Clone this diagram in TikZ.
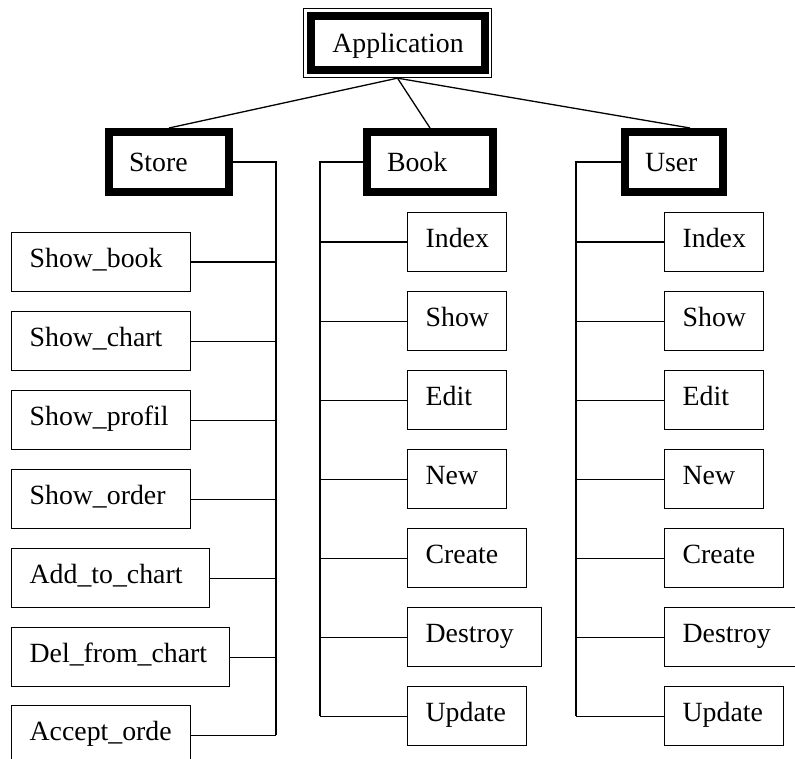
\documentclass[tikz,border=0pt]{standalone}
\usepackage{fontspec}
\setmainfont{Liberation Serif}

% one leaf box: name, left x, top y, width, label
\newcommand\leafnode[5]{%
  \node[leaf, minimum width=#4pt] (#1) at (#2,#3)
    {\makebox[\dimexpr#4pt-36pt\relax][l]{#5}};}

\begin{document}
\begin{tikzpicture}[x=1pt,y=-1pt,
  every node/.style={font=\fontsize{27.8pt}{33pt}\selectfont},
  leaf/.style={draw, line width=1.3pt, rectangle, minimum height=59pt,
    inner xsep=18pt, inner ysep=0pt, text height=20pt, text depth=9pt,
    anchor=north west},
  head/.style={draw, line width=8pt, rectangle, minimum height=60pt,
    inner xsep=20pt, inner ysep=0pt, text height=20pt, text depth=0pt},
  link/.style={line width=1.3pt},
  trunk/.style={line width=2pt},
]
\useasboundingbox (0,0) rectangle (795,759);
\fill[white] (0,0) rectangle (795,759);

% root
\node[draw, line width=1.3pt, minimum width=188pt, minimum height=69pt,
      inner sep=0pt] (appframe) at (397.5,43) {};
\node[draw, line width=8pt, minimum width=174pt, minimum height=54pt,
      inner sep=0pt, text height=20pt, text depth=0pt] (app) at (398,43) {Application};

% controllers
\node[head, minimum width=120pt] (store) at (169,162) {\makebox[80pt][l]{Store}};
\node[head, minimum width=126pt] (book)  at (430,162) {\makebox[86pt][l]{Book}};
\node[head, minimum width=98pt]  (user)  at (674,162) {\makebox[58pt][l]{User}};

% Store actions
\leafnode{showbook}{11}{232}{179}{Show\_book}
\leafnode{showchart}{11}{311}{179}{Show\_chart}
\leafnode{showprofil}{11}{390}{179}{Show\_profil}
\leafnode{showorder}{11}{469}{179}{Show\_order}
\leafnode{addchart}{11}{548}{198}{Add\_to\_chart}
\leafnode{delchart}{11}{627}{218}{Del\_from\_chart}
\leafnode{acceptorder}{11}{705}{179}{Accept\_orde}

% Book actions
\leafnode{bindex}{407}{212}{99}{Index}
\leafnode{bshow}{407}{291}{99}{Show}
\leafnode{bedit}{407}{370}{99}{Edit}
\leafnode{bnew}{407}{449}{99}{New}
\leafnode{bcreate}{407}{528}{119}{Create}
\leafnode{bdestroy}{407}{607}{134}{Destroy}
\leafnode{bupdate}{407}{686}{119}{Update}

% User actions
\leafnode{uindex}{664}{212}{99}{Index}
\leafnode{ushow}{664}{291}{99}{Show}
\leafnode{uedit}{664}{370}{99}{Edit}
\leafnode{unew}{664}{449}{99}{New}
\leafnode{ucreate}{664}{528}{119}{Create}
\leafnode{udestroy}{664}{607}{134}{Destroy}
\leafnode{uupdate}{664}{686}{119}{Update}

% root to controllers
\draw[link] (appframe.south) -- (store.north);
\draw[link] (appframe.south) -- (book.north);
\draw[link] (appframe.south) -- ([xshift=16pt]user.north);

% vertical buses
\coordinate (sbus) at (276,0);
\coordinate (bbus) at (320,0);
\coordinate (ubus) at (576,0);
\draw[trunk] (store.east) -| (acceptorder.east -| sbus);
\draw[trunk] (book.west) -| (bupdate.west -| bbus);
\draw[trunk] (user.west) -| (uupdate.west -| ubus);

% branches
\foreach \n in {showbook,showchart,showprofil,showorder,addchart,delchart,acceptorder}
  \draw[link] (\n.east) -- (\n.east -| sbus);
\foreach \n in {bindex,bshow,bedit,bnew,bcreate,bdestroy,bupdate}
  \draw[link] (\n.west) -- (\n.west -| bbus);
\foreach \n in {uindex,ushow,uedit,unew,ucreate,udestroy,uupdate}
  \draw[link] (\n.west) -- (\n.west -| ubus);
\end{tikzpicture}
\end{document}
